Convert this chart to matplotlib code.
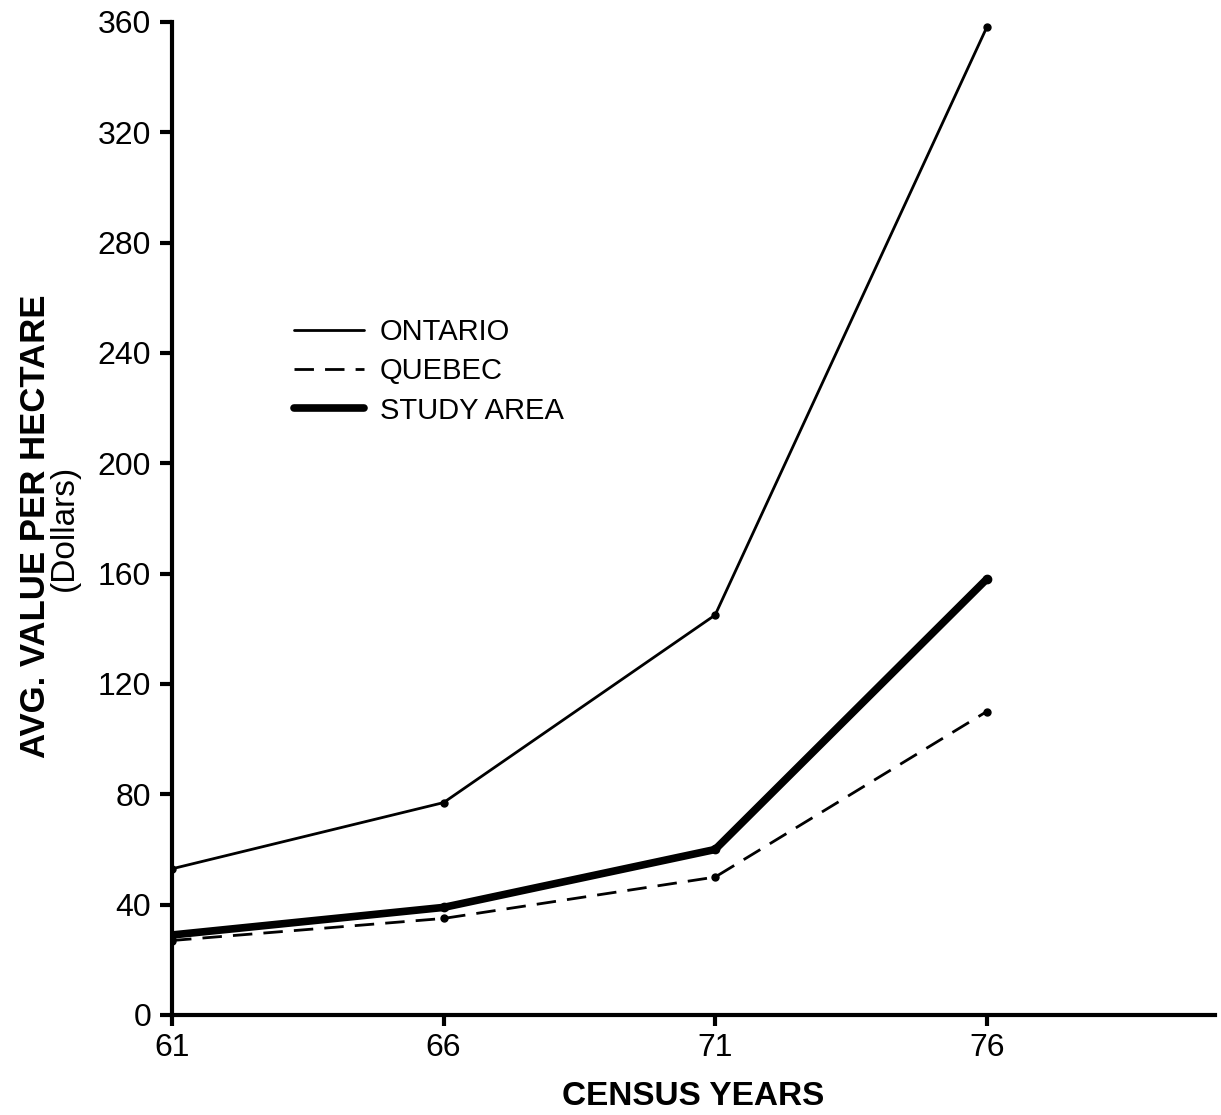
import matplotlib
matplotlib.use("Agg")
import matplotlib.pyplot as plt

years = [61, 66, 71, 76]
ontario = [53, 77, 145, 358]
quebec = [27, 35, 50, 110]
study_area = [29, 39, 60, 158]
x_ticks = [61, 66, 71, 76]
y_ticks = [0, 40, 80, 120, 160, 200, 240, 280, 320, 360]

plt.rcParams['font.family'] = ['Liberation Sans', 'DejaVu Sans']

fig = plt.figure(figsize=(12.21, 11.15), dpi=100)
ax = fig.add_axes([0.1409, 0.0897, 0.854, 0.8906])

ax.plot(years, ontario, color='black', lw=2.0, solid_capstyle='round',
        marker='o', ms=5, label='ONTARIO')
ax.plot(years, quebec, color='black', lw=2.0, dashes=(7, 4),
        marker='o', ms=5, label='QUEBEC')
ax.plot(years, study_area, color='black', lw=5.5, solid_capstyle='round',
        solid_joinstyle='round', marker='o', ms=6, label='STUDY AREA')

ax.set_xlim(61, 80.2)
ax.set_ylim(0, 360)
ax.set_xticks(x_ticks)
ax.set_xticklabels([str(v) for v in x_ticks])
ax.set_yticks(y_ticks)
ax.set_yticklabels([str(v) for v in y_ticks])

for s in ['top', 'right']:
    ax.spines[s].set_visible(False)
for s in ['left', 'bottom']:
    ax.spines[s].set_linewidth(3)
ax.spines['left'].set_bounds(0, 360)

ax.tick_params(axis='y', direction='out', length=9, width=3, labelsize=23, pad=6)
ax.tick_params(axis='x', direction='out', length=8, width=3, labelsize=23, pad=5)

ax.set_xlabel('CENSUS YEARS', fontsize=24, fontweight='bold', labelpad=13)

fig.text(0.029, 0.528, 'AVG. VALUE PER HECTARE', rotation=90, fontsize=25,
         fontweight='bold', ha='center', va='center')
fig.text(0.053, 0.527, '(Dollars)', rotation=90, fontsize=24,
         ha='center', va='center')

leg = ax.legend(loc='upper left', bbox_to_anchor=(0.219, 0.738), bbox_transform=fig.transFigure,
                frameon=False, handlelength=2.4, handletextpad=0.55,
                labelspacing=0.38, prop={'size': 21})
for h in leg.get_lines():
    h.set_marker('')

fig.savefig('out.png', dpi=100)
